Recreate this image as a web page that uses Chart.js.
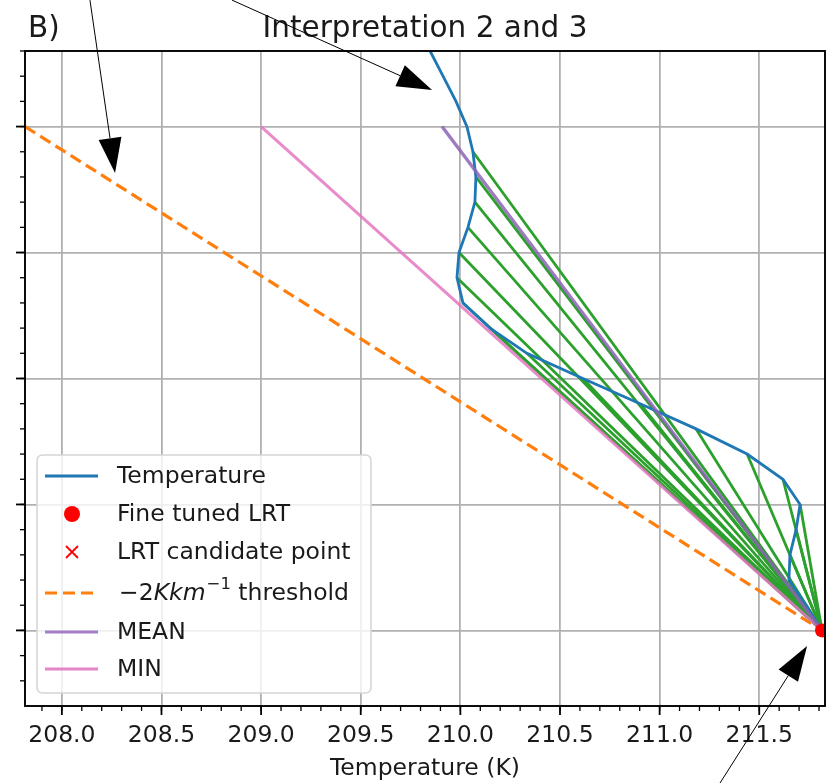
<!DOCTYPE html>
<html><head><meta charset="utf-8">
<script src="https://cdn.jsdelivr.net/npm/chart.js@4.4.1/dist/chart.umd.min.js"></script>
<style>html,body{margin:0;padding:0;background:#fff;} canvas{display:block;}</style>
</head><body>
<canvas id="c" width="827" height="783"></canvas>
<script>
// ---- data (altitude in km, temperature in K) ----
const altitudeKm = [18.3,18.2,18.1,18.0,17.9,17.8,17.7,17.6,17.5,17.4,17.3,17.2,17.1,17.0,16.9,16.8,16.7,16.6,16.5,16.4,16.3,16.2,16.1,16.0];
const temperatureK = [209.848,209.913,209.978,210.033,210.063,210.078,210.073,210.038,209.993,209.983,210.013,210.149,210.334,210.615,210.902,211.183,211.439,211.619,211.705,211.685,211.654,211.649,211.735,211.815];
const lapseStartAltitudes = [17.9,17.8,17.7,17.6,17.5,17.4,17.3,17.2,17.1,17.0,16.9,16.8,16.7,16.6,16.5,16.4,16.3,16.2,16.1];
const lrtTemperature = [211.815];
const lrtAltitude = [16.0];
const candidateTemperature = [211.815];
const candidateAltitude = [16.0];
const thresholdTemperature = [207.815, 211.815];
const thresholdAltitude = [18.0, 16.0];
const meanTemperature = [209.908, 211.815];
const meanAltitude = [18.0, 16.0];
const minTemperature = [209.0, 211.815];
const minAltitude = [18.0, 16.0];
const xTickValues = [208.0,208.5,209.0,209.5,210.0,210.5,211.0,211.5];
const yTickValues = [16.0,16.5,17.0,17.5,18.0];
const X_MIN = 207.815, X_MAX = 211.83, Y_MIN = 15.7, Y_MAX = 18.3;
// annotation arrows [tailT, tailH, tipT, tipH]
const arrows = [
  [208.141, 18.502, 208.267, 17.816],
  [208.854, 18.502, 209.858, 18.145],
  [211.303, 15.394, 211.740, 15.938]
];

const FONT = '"DejaVu Sans", sans-serif';
const C_BLUE = '#1f77b4', C_ORANGE = '#ff7f0e', C_GREEN = '#2ca02c', C_PURPLE = '#9467bd', C_PINK = '#e377c2', C_RED = '#ff0000';
const TXT = '#1a1a1a';

const pts = (xs, ys) => xs.map((x, i) => ({x, y: ys[i]}));
const datasets = [];
datasets.push({label:'Temperature', data: pts(temperatureK, altitudeKm), borderColor: C_BLUE, borderWidth: 2.8, pointRadius: 0, order: 5, showLine: true});
lapseStartAltitudes.forEach(h => {
  const i = altitudeKm.indexOf(h);
  datasets.push({label:'_lapse', data: [{x: temperatureK[i], y: h}, {x: lrtTemperature[0], y: lrtAltitude[0]}], borderColor: C_GREEN, borderWidth: 2.8, pointRadius: 0, order: 6, showLine: true});
});
datasets.push({label:'Fine tuned LRT', data: pts(lrtTemperature, lrtAltitude), showLine:false, pointRadius: 7, pointBackgroundColor: C_RED, pointBorderWidth: 0, order: 1});
datasets.push({label:'LRT candidate point', data: pts(candidateTemperature, candidateAltitude), showLine:false, pointStyle:'crossRot', pointRadius: 7, borderColor: C_RED, pointBorderColor: C_RED, pointBorderWidth: 2, order: 0});
datasets.push({label:'threshold', data: pts(thresholdTemperature, thresholdAltitude), borderColor: C_ORANGE, borderWidth: 3.2, borderDash:[12,6], pointRadius: 0, order: 4, showLine: true});
datasets.push({label:'MEAN', data: pts(meanTemperature, meanAltitude), borderColor: 'rgba(140,100,180,0.85)', borderWidth: 3.4, pointRadius: 0, order: 2, showLine: true});
datasets.push({label:'MIN', data: pts(minTemperature, minAltitude), borderColor: 'rgba(227,119,194,0.85)', borderWidth: 3, pointRadius: 0, order: 3, showLine: true});

function roundRect(ctx, x, y, w, h, r) {
  ctx.beginPath();
  ctx.moveTo(x + r, y); ctx.lineTo(x + w - r, y); ctx.quadraticCurveTo(x + w, y, x + w, y + r);
  ctx.lineTo(x + w, y + h - r); ctx.quadraticCurveTo(x + w, y + h, x + w - r, y + h);
  ctx.lineTo(x + r, y + h); ctx.quadraticCurveTo(x, y + h, x, y + h - r);
  ctx.lineTo(x, y + r); ctx.quadraticCurveTo(x, y, x + r, y); ctx.closePath();
}

const framePlugin = {
  id: 'frame',
  afterDatasetsDraw(chart) {
    const {ctx, chartArea: a, scales: {x, y}} = chart;
    ctx.save();
    // ticks
    ctx.strokeStyle = '#000';
    const minorX = [], minorY = [];
    for (let v = 207.9; v <= X_MAX + 1e-9; v += 0.1) minorX.push(+v.toFixed(1));
    for (let v = 15.8; v <= Y_MAX + 1e-9; v += 0.1) minorY.push(+v.toFixed(1));
    ctx.lineWidth = 1.3;
    minorX.forEach(v => { const px = x.getPixelForValue(v); ctx.beginPath(); ctx.moveTo(px, a.bottom); ctx.lineTo(px, a.bottom + 5); ctx.stroke(); });
    minorY.forEach(v => { const py = y.getPixelForValue(v); ctx.beginPath(); ctx.moveTo(a.left, py); ctx.lineTo(a.left - 5, py); ctx.stroke(); });
    ctx.lineWidth = 1.8;
    xTickValues.forEach(v => { const px = x.getPixelForValue(v); ctx.beginPath(); ctx.moveTo(px, a.bottom); ctx.lineTo(px, a.bottom + 9); ctx.stroke(); });
    yTickValues.forEach(v => { const py = y.getPixelForValue(v); ctx.beginPath(); ctx.moveTo(a.left, py); ctx.lineTo(a.left - 9, py); ctx.stroke(); });
    // spines
    ctx.lineWidth = 1.9;
    ctx.strokeRect(a.left, a.top, a.right - a.left, a.bottom - a.top);

    // legend
    const lx = 37, ly = 455, lw = 334, lh = 238;
    roundRect(ctx, lx, ly, lw, lh, 6);
    ctx.fillStyle = 'rgba(255,255,255,0.8)'; ctx.fill();
    ctx.strokeStyle = '#d5d5d5'; ctx.lineWidth = 1.5; ctx.stroke();
    const rows = [476, 514, 552, 593, 632, 669];
    const hx0 = 45, hx1 = 98, tx = 117;
    ctx.font = '23.5px ' + FONT; ctx.textBaseline = 'middle'; ctx.textAlign = 'left';
    const drawLineHandle = (yy, color, dash) => {
      ctx.save(); ctx.strokeStyle = color; ctx.lineWidth = 3.2; if (dash) ctx.setLineDash(dash);
      ctx.beginPath(); ctx.moveTo(hx0, yy); ctx.lineTo(hx1, yy); ctx.stroke(); ctx.restore();
    };
    drawLineHandle(rows[0], C_BLUE);
    ctx.fillStyle = C_RED; ctx.beginPath(); ctx.arc(72, rows[1], 8, 0, Math.PI * 2); ctx.fill();
    ctx.strokeStyle = C_RED; ctx.lineWidth = 1.8; ctx.beginPath();
    ctx.moveTo(66, rows[2] - 6); ctx.lineTo(78, rows[2] + 6); ctx.moveTo(78, rows[2] - 6); ctx.lineTo(66, rows[2] + 6); ctx.stroke();
    drawLineHandle(rows[3], C_ORANGE, [12, 6]);
    drawLineHandle(rows[4], 'rgba(148,103,189,0.85)');
    drawLineHandle(rows[5], 'rgba(227,119,194,0.9)');
    ctx.fillStyle = TXT;
    ctx.fillText('Temperature', tx, rows[0] + 1);
    ctx.fillText('Fine tuned LRT', tx, rows[1] + 1);
    ctx.fillText('LRT candidate point', tx, rows[2] + 1);
    // -2 K km^-1 threshold (math text)
    let cx = tx + 2;
    ctx.font = '23.5px ' + FONT; ctx.fillText('\u22122', cx, rows[3] + 1); cx += ctx.measureText('\u22122').width;
    ctx.font = 'italic 23.5px ' + FONT; ctx.fillText('Kkm', cx, rows[3] + 1); cx += ctx.measureText('Kkm').width + 1;
    ctx.font = '16.5px ' + FONT; ctx.fillText('\u22121', cx, rows[3] - 8); cx += ctx.measureText('\u22121').width;
    ctx.font = '23.5px ' + FONT; ctx.fillText(' threshold', cx, rows[3] + 1);
    ctx.fillText('MEAN', tx, rows[4] + 1);
    ctx.fillText('MIN', tx, rows[5] + 1);

    // title and panel letter
    ctx.font = '29.5px ' + FONT; ctx.textBaseline = 'alphabetic';
    ctx.textAlign = 'center'; ctx.fillText('Interpretation 2 and 3', (a.left + a.right) / 2, 37);
    ctx.textAlign = 'left'; ctx.fillText('B)', 28, 37);

    // annotation arrows
    ctx.strokeStyle = '#000'; ctx.fillStyle = '#000'; ctx.lineWidth = 1;
    arrows.forEach(([t0, h0, t1, h1]) => {
      const x0 = x.getPixelForValue(t0), y0 = y.getPixelForValue(h0);
      const x1 = x.getPixelForValue(t1), y1 = y.getPixelForValue(h1);
      const dx = x1 - x0, dy = y1 - y0, L = Math.hypot(dx, dy), ux = dx / L, uy = dy / L;
      const hl = 35, hw = 11.5;
      const bx = x1 - ux * hl, by = y1 - uy * hl;
      ctx.beginPath(); ctx.moveTo(x0, y0); ctx.lineTo(bx, by); ctx.stroke();
      ctx.beginPath(); ctx.moveTo(x1, y1); ctx.lineTo(bx - uy * hw, by + ux * hw); ctx.lineTo(bx + uy * hw, by - ux * hw); ctx.closePath(); ctx.fill();
    });
    ctx.restore();
  }
};

new Chart(document.getElementById('c'), {
  type: 'scatter',
  data: {datasets},
  options: {
    responsive: false, animation: false, devicePixelRatio: 1,
    layout: {autoPadding: false, padding: {left: 0, right: 2, top: 51, bottom: 0}},
    plugins: {legend: {display: false}, tooltip: {enabled: false}, title: {display: false}},
    elements: {line: {tension: 0}},
    scales: {
      x: {
        type: 'linear', min: X_MIN, max: X_MAX,
        afterBuildTicks: ax => { ax.ticks = xTickValues.map(v => ({value: v})); },
        ticks: {callback: v => Number(v).toFixed(1), font: {family: FONT, size: 23.5}, color: TXT, padding: 6, maxRotation: 0, autoSkip: false},
        grid: {color: '#b0b0b0', lineWidth: 1.8, drawTicks: true, tickLength: 10, tickColor: 'rgba(0,0,0,0)'},
        border: {display: false},
        title: {display: true, text: 'Temperature (K)', font: {family: FONT, size: 23.5}, color: TXT, padding: {top: 0, bottom: 0}},
        afterFit: ax => { ax.height = 77; ax.paddingLeft = 0; ax.paddingRight = 0; }
      },
      y: {
        type: 'linear', min: Y_MIN, max: Y_MAX,
        afterBuildTicks: ax => { ax.ticks = yTickValues.map(v => ({value: v})); },
        ticks: {display: false},
        grid: {color: '#b0b0b0', lineWidth: 1.8, drawTicks: false},
        border: {display: false},
        afterFit: ax => { ax.width = 25; ax.paddingTop = 0; ax.paddingBottom = 0; }
      }
    }
  },
  plugins: [framePlugin]
});
</script>
</body></html>
